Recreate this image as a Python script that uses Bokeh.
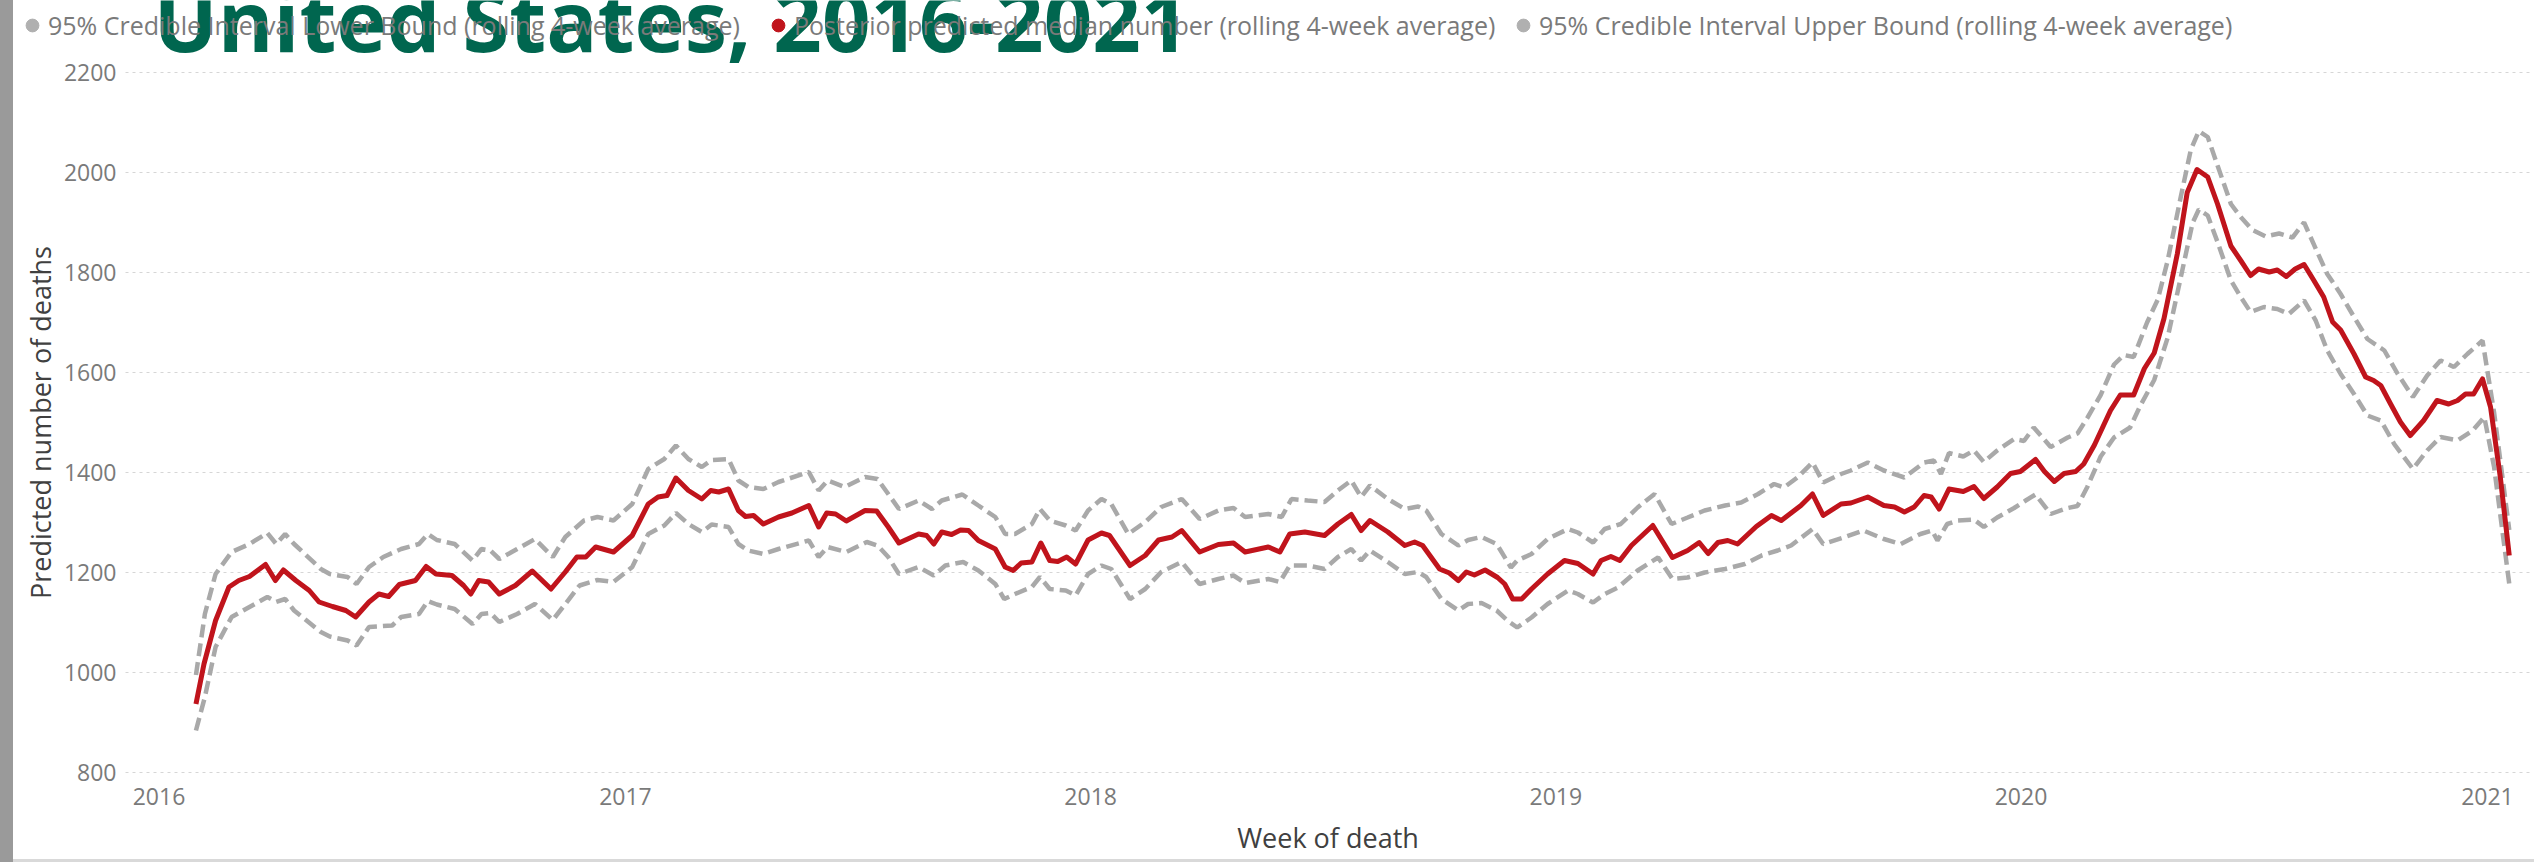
import numpy as np
import pandas as pd
from bokeh.plotting import figure
from bokeh.models import (ColumnDataSource, FixedTicker, DatetimeTickFormatter,
                          Legend, LegendItem, Label, Spacer, Grid)
from bokeh.layouts import row, column
from bokeh.embed import file_html
from bokeh.resources import INLINE

# ---------------- data ----------------
FIRST_WEEK = "2016-01-30"   # week ending date of first rolling 4-week average

median_week = [0, 0.9, 2.2, 3.7, 4.8, 6.0, 6.9, 7.8, 8.9, 9.8, 11.2, 12.7, 13.8, 15.3, 16.8, 17.9,
               19.4, 20.5, 21.6, 22.8, 24.6, 25.8, 26.9, 28.7, 30.0, 30.8, 31.7, 32.8, 34.0, 35.8,
               37.7, 39.8, 41.4, 42.7, 43.7, 44.8, 46.8, 48.9, 50.7, 51.8, 52.8, 53.8, 55.2, 56.7,
               57.7, 58.6, 59.7, 60.8, 61.6, 62.5, 63.6, 65.3, 66.8, 68.7, 69.8, 70.7, 71.7, 72.9,
               75.0, 76.3, 77.6, 78.8, 81.0, 81.9, 82.7, 83.6, 84.7, 85.7, 86.6, 87.7, 89.6, 90.7,
               91.6, 92.5, 93.7, 94.7, 95.7, 96.6, 97.6, 98.6, 100.0, 101.5, 102.4, 104.7, 106.4,
               107.9, 109.4, 110.5, 112.5, 114.6, 116.3, 117.6, 120.2, 121.5, 122.6, 124.3, 126.5,
               128.0, 129.5, 130.6, 131.6, 133.6, 135.5, 136.6, 137.5, 139.4, 140.5, 141.5, 142.4,
               143.3, 144.5, 145.9, 146.7, 147.6, 148.6, 149.7, 151.5, 153.4, 154.9, 156.6, 157.5,
               158.6, 159.6, 160.9, 163.3, 165.5, 167.2, 168.5, 169.5, 170.6, 171.7, 172.8, 174.9,
               176.6, 177.7, 179.9, 181.2, 182.4, 184.4, 185.5, 187.4, 189.2, 190.4, 191.5, 192.6,
               193.7, 194.5, 195.4, 196.5, 198.1, 199.3, 200.4, 201.9, 203.4, 204.5, 206.2, 207.2,
               208.3, 209.4, 210.7, 211.6, 212.8, 214.6, 215.7, 217.2, 218.4, 219.5, 220.6, 222.1,
               223.2, 224.3, 225.5, 226.6, 228.1, 229.2, 230.3, 231.2, 232.4, 233.3, 234.3, 235.3,
               236.3, 237.4, 238.5, 239.5, 240.4, 241.9, 243.2, 244.1, 244.9, 246.0, 247.1, 248.2,
               249.7, 251.2, 252.5, 253.5, 254.4, 255.3, 256.3, 257.2, 258.3, 259.3]
median_deaths = [937, 1017, 1104, 1171, 1184, 1192, 1204, 1216, 1184, 1205, 1184, 1164, 1141, 1132, 1124, 1111,
                 1141, 1157, 1152, 1176, 1184, 1212, 1197, 1194, 1174, 1157, 1184, 1181, 1157, 1174,
                 1203, 1167, 1201, 1231, 1231, 1251, 1241, 1274, 1337, 1351, 1354, 1389, 1364, 1347,
                 1364, 1361, 1367, 1324, 1312, 1314, 1297, 1311, 1319, 1334, 1291, 1319, 1317, 1303,
                 1324, 1323, 1291, 1259, 1277, 1274, 1257, 1281, 1276, 1285, 1284, 1264, 1247, 1211,
                 1204, 1219, 1221, 1259, 1224, 1222, 1231, 1217, 1265, 1279, 1274, 1214, 1234,
                 1265, 1271, 1284, 1241, 1256, 1259, 1241, 1251, 1241, 1277, 1281, 1274,
                 1297, 1316, 1284, 1304, 1281, 1254, 1261, 1254, 1207, 1199, 1184, 1201,
                 1195, 1205, 1190, 1177, 1147, 1147, 1167, 1197, 1224, 1218, 1197, 1224,
                 1232, 1224, 1254, 1294, 1230, 1244, 1260, 1238, 1260, 1264, 1257, 1292,
                 1314, 1304, 1334, 1357, 1314, 1337, 1339, 1351, 1334, 1331, 1321, 1331,
                 1354, 1351, 1327, 1367, 1362, 1372, 1348, 1371, 1398, 1402, 1426, 1402,
                 1382, 1398, 1402, 1417, 1455, 1524, 1555, 1555, 1608, 1639, 1708, 1838,
                 1960, 2006, 1991, 1937, 1853, 1824, 1794, 1807, 1801, 1805, 1792, 1807,
                 1816, 1784, 1751, 1701, 1685, 1637, 1591, 1584, 1574, 1537, 1501, 1474,
                 1504, 1544, 1537, 1544, 1557, 1557, 1587, 1531, 1390, 1234]

upper_week = [0, 1.0, 2.2, 4.0, 6.0, 8.0, 9.0, 10.0, 11.0, 14.0, 15.0, 17.0, 18.0, 19.4, 21.0, 23.0,
              25.0, 26.0, 27.0, 29.0, 31.0, 32.0, 33.0, 34.0, 36.0, 38.0, 40.0, 41.4, 43.5, 45.0,
              46.8, 48.9, 50.7, 52.5, 53.8, 55.2, 56.7, 57.8, 59.7, 60.8, 61.9, 63.6, 65.3, 68.7,
              69.8, 70.8, 72.7, 75.0, 76.4, 77.6, 78.8, 81.0, 82.5, 83.6, 85.9, 87.7, 89.6, 90.7,
              91.8, 93.7, 94.6, 95.7, 97.5, 98.6, 100.0, 101.5, 102.6, 104.5, 106.4, 108.2, 110.5,
              112.5, 114.6, 116.3, 117.6, 120.2, 121.7, 122.8, 124.6, 126.5, 128.0, 129.5, 130.6,
              131.6, 133.6, 135.5, 137.0, 137.9, 139.6, 141.5, 142.6, 144.1, 145.8, 147.4, 148.1,
              149.7, 151.5, 153.8, 154.9, 156.6, 157.9, 159.7, 161.6, 163.5, 165.4, 167.2, 169.1,
              171.4, 173.2, 175.1, 176.9, 178.0, 179.5, 181.2, 182.4, 184.4, 185.5, 187.4, 189.2,
              191.5, 193.7, 194.8, 195.6, 196.5, 198.1, 199.3, 200.4, 201.9, 203.8, 204.9, 206.0,
              207.9, 209.8, 210.9, 212.0, 213.5, 215.0, 216.1, 217.2, 218.7, 219.9, 221.0, 222.5,
              223.6, 224.5, 225.5, 226.6, 228.1, 229.2, 230.5, 232.0, 233.5, 235.0, 236.3, 237.7,
              238.9, 240.4, 241.9, 243.4, 245.3, 246.8, 248.5, 250.1, 251.6, 253.1, 254.6, 256.3,
              257.6, 259.3]
upper_deaths = [995, 1117, 1197, 1241, 1257, 1279, 1257, 1277, 1257, 1207, 1197, 1191, 1177, 1211, 1231, 1247,
                1257, 1277, 1265, 1257, 1224, 1247, 1244, 1227, 1247, 1267, 1231, 1271, 1304, 1311,
                1304, 1337, 1407, 1427, 1454, 1427, 1411, 1425, 1427, 1384, 1371, 1367, 1381, 1401,
                1364, 1384, 1371, 1391, 1387, 1357, 1327, 1344, 1327, 1344, 1356, 1334, 1311, 1277,
                1277, 1297, 1327, 1304, 1294, 1284, 1324, 1347, 1337, 1277, 1301, 1331, 1347,
                1307, 1324, 1329, 1311, 1317, 1311, 1347, 1344, 1341, 1364, 1384, 1351,
                1374, 1347, 1327, 1332, 1324, 1277, 1254, 1265, 1271, 1257, 1210, 1224,
                1237, 1267, 1287, 1280, 1260, 1287, 1297, 1330, 1357, 1297, 1310, 1324,
                1334, 1340, 1357, 1377, 1370, 1390, 1420, 1380, 1397, 1404, 1420, 1404,
                1390, 1420, 1424, 1397, 1439, 1432, 1444, 1421, 1444, 1467, 1463, 1490,
                1451, 1470, 1478, 1509, 1555, 1616, 1635, 1631, 1700, 1746, 1823, 1953,
                2045, 2083, 2071, 2014, 1937, 1911, 1885, 1872, 1878, 1870, 1900, 1844,
                1797, 1757, 1711, 1667, 1644, 1597, 1551, 1594, 1624, 1611, 1637, 1664,
                1520, 1285]

lower_week = [0, 1.0, 2.2, 4.0, 6.0, 8.0, 9.0, 10.0, 11.0, 14.0, 15.0, 17.0, 18.0, 19.4, 22.0, 23.0,
              25.0, 26.0, 27.0, 29.0, 31.0, 32.0, 33.0, 34.0, 36.0, 38.0, 40.0, 41.4, 43.0, 45.0,
              46.8, 48.9, 50.7, 52.5, 53.8, 55.2, 56.7, 57.8, 59.7, 60.8, 61.9, 63.6, 65.3, 68.7,
              69.8, 70.8, 72.9, 75.2, 76.4, 77.6, 78.8, 81.0, 82.7, 84.0, 86.0, 87.7, 89.6, 90.6,
              91.8, 93.7, 94.6, 95.7, 97.5, 98.6, 100.0, 101.5, 102.6, 104.7, 106.4, 108.2, 110.5,
              112.5, 114.6, 116.3, 117.6, 120.2, 121.5, 122.6, 124.6, 126.5, 128.0, 129.5, 130.6,
              131.6, 133.6, 135.5, 137.0, 137.9, 139.6, 141.5, 142.6, 144.1, 145.8, 147.0, 148.1,
              149.7, 151.5, 153.8, 154.9, 156.6, 157.9, 159.4, 161.6, 163.9, 165.5, 167.2, 169.1,
              171.4, 173.6, 175.5, 177.3, 178.8, 181.2, 182.4, 184.7, 186.9, 189.2, 191.1, 193.3,
              194.6, 195.2, 196.3, 197.5, 199.3, 200.4, 201.9, 203.8, 205.1, 206.2, 207.9, 209.8,
              210.9, 212.0, 213.5, 215.0, 216.8, 217.9, 219.5, 221.0, 222.5, 223.8, 224.5, 225.5,
              226.6, 228.1, 229.2, 230.3, 231.8, 233.3, 234.6, 236.3, 237.6, 238.9, 240.4, 241.9,
              243.4, 244.9, 246.4, 248.5, 250.1, 251.6, 253.5, 255.2, 256.5, 257.6, 259.3]
lower_deaths = [884, 951, 1051, 1111, 1131, 1151, 1141, 1147, 1124, 1081, 1072, 1064, 1054, 1091, 1094, 1111,
                1117, 1143, 1136, 1127, 1097, 1117, 1119, 1101, 1117, 1137, 1105, 1137, 1174, 1185,
                1181, 1211, 1277, 1294, 1319, 1297, 1281, 1296, 1291, 1257, 1244, 1237, 1247, 1264,
                1231, 1251, 1241, 1261, 1254, 1231, 1197, 1211, 1194, 1214, 1221, 1204, 1177, 1147,
                1157, 1171, 1191, 1167, 1164, 1154, 1197, 1214, 1207, 1147, 1167, 1201, 1221,
                1177, 1187, 1194, 1179, 1187, 1181, 1214, 1214, 1207, 1231, 1247, 1224,
                1244, 1221, 1197, 1201, 1191, 1147, 1124, 1137, 1139, 1124, 1104, 1090,
                1110, 1137, 1164, 1157, 1140, 1157, 1170, 1204, 1230, 1187, 1190, 1200,
                1207, 1217, 1234, 1244, 1254, 1287, 1257, 1270, 1284, 1267, 1257, 1277,
                1284, 1264, 1297, 1304, 1306, 1291, 1310, 1329, 1344, 1356, 1317, 1329,
                1333, 1371, 1432, 1470, 1490, 1532, 1585, 1669, 1792, 1899, 1926, 1914,
                1861, 1784, 1751, 1721, 1731, 1727, 1717, 1744, 1704, 1644, 1597, 1557,
                1514, 1504, 1457, 1407, 1444, 1471, 1464, 1484, 1511, 1411, 1177]

year_ticks = ["2016-01-01", "2017-01-01", "2018-01-01", "2019-01-01", "2020-01-01", "2021-01-01"]
y_ticks = [800, 1000, 1200, 1400, 1600, 1800, 2000, 2200]

series_labels = ["95% Credible Interval Lower Bound (rolling 4-week average)",
                 "Posterior predicted median number (rolling 4-week average)",
                 "95% Credible Interval Upper Bound (rolling 4-week average)"]
title_text = "United States, 2016-2021"
x_title = "Week of death"
y_title = "Predicted number of deaths"

# ---------------- build ----------------
start = pd.Timestamp(FIRST_WEEK)


def to_dates(weeks):
    return start + pd.to_timedelta(np.asarray(weeks, dtype=float) * 7, unit="D")


def ms(ts):
    return ts.value / 1e6


src_med = ColumnDataSource(dict(x=to_dates(median_week), y=median_deaths))
src_up = ColumnDataSource(dict(x=to_dates(upper_week), y=upper_deaths))
src_lo = ColumnDataSource(dict(x=to_dates(lower_week), y=lower_deaths))

origin = pd.Timestamp("2016-01-01")
# the whole canvas is the plotting area; the axes are pinned at the chart's edges
canvas_x0 = origin - pd.Timedelta(days=114.16)
canvas_x1 = origin + pd.Timedelta(days=1863.9)
chart_x0 = origin - pd.Timedelta(days=26.28)
chart_x1 = origin + pd.Timedelta(days=1860.7)
Y_MIN, Y_MAX = 800, 2200

FONT = "Open Sans"
GRAY_TXT = "#7a7a7a"
RED = "#c0141c"
BAND = "#a9a9a9"
W, H = 2521, 859

p = figure(width=W, height=H, x_axis_type="datetime", title=None,
           x_range=(canvas_x0, canvas_x1), y_range=(626, 2344),
           output_backend="svg", toolbar_location=None, min_border=0)
p.outline_line_color = None
p.background_fill_color = "white"
p.border_fill_color = "white"

xa, ya = p.xaxis[0], p.yaxis[0]
ya.fixed_location = ms(chart_x0)
xa.fixed_location = Y_MIN
ya.bounds = (Y_MIN, Y_MAX)
xa.bounds = (ms(chart_x0), ms(chart_x1))

p.xgrid.grid_line_color = None
p.ygrid.grid_line_color = "#d6d6d6"
p.ygrid.grid_line_dash = "3 4"
p.ygrid.grid_line_width = 1
if "cross_bounds" in Grid.properties():
    p.ygrid.cross_bounds = (ms(chart_x0), ms(chart_x1))

ya.ticker = FixedTicker(ticks=y_ticks)
xa.ticker = FixedTicker(ticks=[ms(pd.Timestamp(t)) for t in year_ticks])
xa.formatter = DatetimeTickFormatter(years="%Y", months="%Y", days="%Y", hours="%Y",
                                     hourmin="%Y", minutes="%Y", minsec="%Y",
                                     seconds="%Y", milliseconds="%Y", microseconds="%Y")

for ax in (xa, ya):
    ax.axis_line_color = None
    ax.major_tick_line_color = None
    ax.minor_tick_line_color = None
    ax.major_label_text_font = FONT
    ax.major_label_text_font_size = "23px"
    ax.major_label_text_color = GRAY_TXT
    ax.axis_label_text_font = FONT
    ax.axis_label_text_font_size = "27px"
    ax.axis_label_text_font_style = "normal"
    ax.axis_label_text_color = "#404040"

xa.axis_label = x_title
ya.axis_label = y_title
ya.major_label_standoff = 3
ya.axis_label_standoff = 2
xa.major_label_standoff = 9
xa.axis_label_standoff = 11

p.line("x", "y", source=src_lo, line_color=BAND, line_width=4.5, line_dash="13 6")
p.line("x", "y", source=src_up, line_color=BAND, line_width=4.5, line_dash="13 6")
p.line("x", "y", source=src_med, line_color=RED, line_width=5, line_join="round")

# legend: three single-entry legends along the top edge
dot_colors = ["#b0b0b0", RED, "#b0b0b0"]
legend_x = [3, 749, 1494]
for lab, col, lx in zip(series_labels, dot_colors, legend_x):
    r = p.scatter(x=[start], y=[np.nan], marker="circle", size=13,
                  fill_color=col, line_color=col)
    lg = Legend(items=[LegendItem(label=lab, renderers=[r])], location=(lx, 817),
                orientation="horizontal", glyph_width=32, glyph_height=32,
                label_standoff=0, padding=0, margin=0, border_line_color=None,
                background_fill_alpha=0, label_text_font=FONT, label_text_font_size="25px",
                label_text_color=GRAY_TXT, label_height=30)
    p.add_layout(lg)

# title overlapping the legend, its top cut by the page edge (as in the source)
title = Label(x=140, y=841, x_units="screen", y_units="screen", text=title_text,
              text_font=FONT, text_font_style="bold", text_font_size="85px",
              text_color="#00664f", text_align="left", text_baseline="alphabetic")
p.add_layout(title)

strip = Spacer(width=13, height=862, styles={"background-color": "#9a9a9a"})
bottom_line = Spacer(width=W, height=3, styles={"background-color": "#d9d9d9"})
layout = row(strip, column(p, bottom_line))

open("out.html", "w").write(file_html(layout, INLINE))
